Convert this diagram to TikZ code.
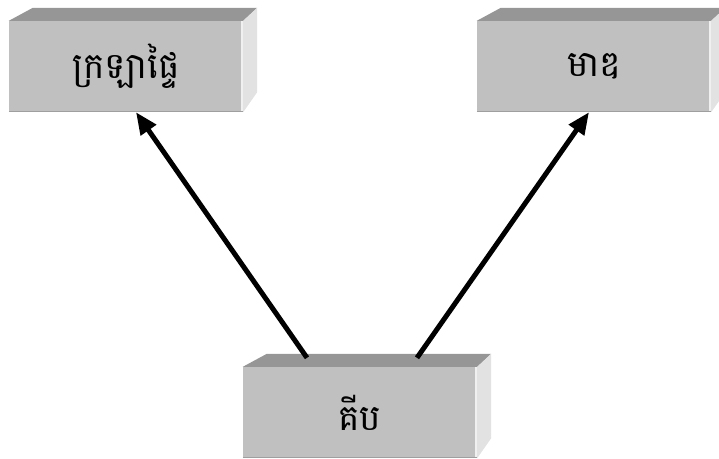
\documentclass[tikz,border=0pt]{standalone}
\usepackage{fontspec}
\newfontfamily\khmerfont[Script=Khmer]{Battambang}
\usetikzlibrary{arrows.meta, calc}
\definecolor{frontgray}{HTML}{C0C0C0}
\definecolor{topgray}{HTML}{969696}
\definecolor{sidegray}{HTML}{E2E2E2}

\begin{document}
\begin{tikzpicture}[x=1pt, y=-1pt,
  solid/.style={fill=frontgray, minimum width=234pt, minimum height=91pt, inner sep=0pt,
    font=\khmerfont\fontsize{36}{44}\selectfont},
  topface/.style={fill=topgray},
  sideface/.style={fill=sidegray},
  link/.style={-{Triangle[length=22pt, width=18pt]}, line width=5pt}]

  \useasboundingbox (0,0) rectangle (719,458);
  \clip (0,0) rectangle (719,458);

  \node[solid] (area) at (126,66.5) {ក្រឡាផ្ទៃ};
  \node[solid] (volume) at (594,66.5) {មាឌ};
  \node[solid] (cube) at (360,412.5) {គីប};

  % top and right faces of the boxes
  \foreach \n in {area, volume, cube} {
    \fill[topface] (\n.north west) -- ++(24,-13) -- ($(\n.north east)+(14,-13)$)
      -- (\n.north east) -- cycle;
    \fill[sideface] (\n.north east) -- ++(14,-13) -- ($(\n.south east)+(14,-20)$)
      -- (\n.south east) -- cycle;
    \draw[white!88!gray, line width=1.5pt] ($(\n.north east)+(-1,0)$) -- ($(\n.south east)+(-1,0)$);
    \draw[gray!75, line width=1pt] ($(\n.south west)+(0,-0.5)$) -- ($(\n.south east)+(0,-0.5)$);
  }

  \draw[link] ($(cube.north)+(-53,-9)$) -- ($(area.south)+(10,0)$);
  \draw[link] ($(cube.north)+(57,-9)$) -- ($(volume.south)+(-5,0)$);

\end{tikzpicture}
\end{document}
